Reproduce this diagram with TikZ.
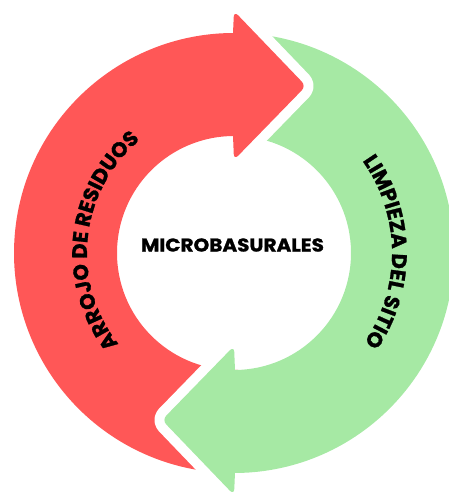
\documentclass[tikz,border=0pt]{standalone}
\usepackage{fontspec}
\setmainfont{Poppins}[BoldFeatures={FakeBold=1.2}]
\usetikzlibrary{decorations.text}
\definecolor{arrred}{RGB}{255,87,87}
\definecolor{arrgreen}{RGB}{166,233,164}
\begin{document}
\begin{tikzpicture}[x=1pt,y=1pt,
  headline/.style={white, line width=20pt, line join=round, line cap=round, rounded corners=6pt},
  curvetext/.style={decorate, decoration={text along path, text align=center, text={#1}}}]
\useasboundingbox (0,0) rectangle (449,493);
\begin{scope}[shift={(234,240)}]
  % bands
  \fill[arrred] (88:220) arc[start angle=88,end angle=272,radius=220] -- (272:117) arc[start angle=272,end angle=88,radius=117] -- cycle;
  \fill[arrgreen] (-92:220) arc[start angle=-92,end angle=88,radius=220] -- (88:117) arc[start angle=88,end angle=-92,radius=117] -- cycle;
  % red head
  \draw[headline] (0,242) -- (72,167) -- (0,93);
  \fill[arrred, rounded corners=6pt] (-1,220) -- (0,242) -- (72,167) -- (0,93) -- (-1,117) -- cycle;
  % green head
  \begin{scope}[rotate=180]
    \draw[headline] (0,242) -- (72,167) -- (0,93);
    \fill[arrgreen, rounded corners=6pt] (-1,220) -- (0,242) -- (72,167) -- (0,93) -- (-1,117) -- cycle;
  \end{scope}
  % curved labels
  \path[curvetext={|\fontsize{21}{21}\selectfont\bfseries|ARROJO DE RESIDUOS}] (234:147) arc[start angle=234,end angle=114,radius=147];
  \path[curvetext={|\fontsize{21}{21}\selectfont\bfseries|LIMPIEZA DEL SITIO}] (60.5:158) arc[start angle=60.5,end angle=-59.5,radius=158];
  \node[font=\bfseries\fontsize{18.5}{18.5}\selectfont, inner sep=0pt] (centre) at (-1.5,8) {\scalebox{1.08}[1]{MICROBASURALES}};
\end{scope}
\end{tikzpicture}
\end{document}
